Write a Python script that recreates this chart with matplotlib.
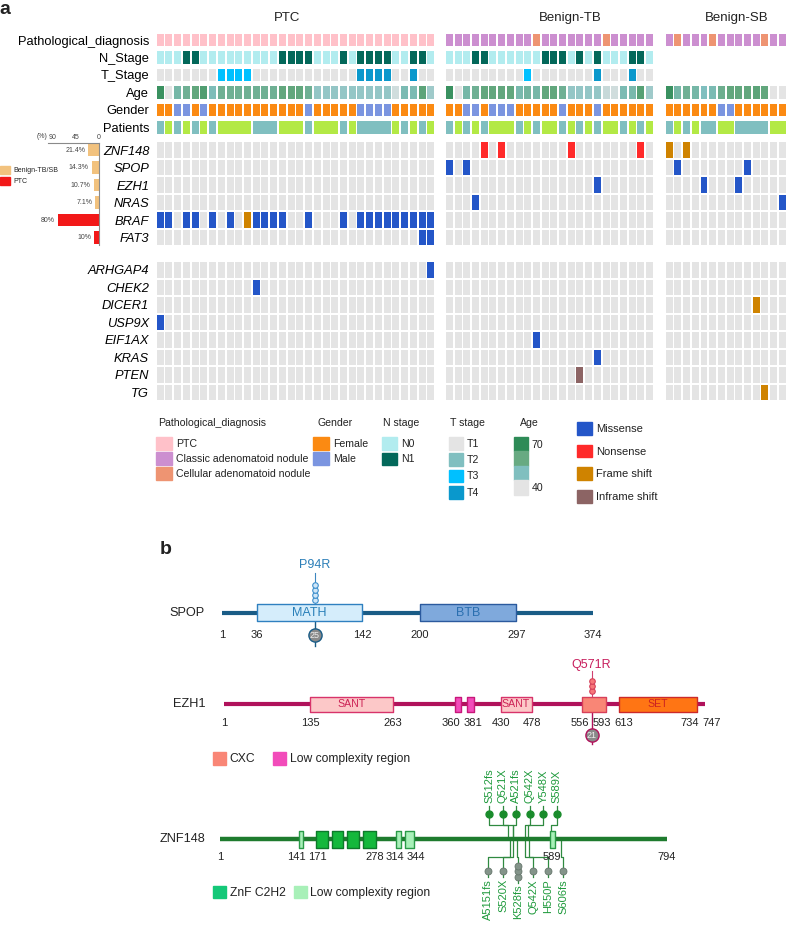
import numpy as np
import matplotlib
matplotlib.use("Agg")
import matplotlib.pyplot as plt
from matplotlib.patches import Patch
from matplotlib.colors import LinearSegmentedColormap

plt.rcParams['font.family'] = ['Liberation Sans', 'DejaVu Sans']
plt.rcParams['text.color'] = '#222222'

W, H = 788, 936

# ------------------------------------------------------------ panel a : data
group_names = ['PTC', 'Benign-TB', 'Benign-SB']

# pathology: 0 PTC, 1 classic adenomatoid nodule, 2 cellular adenomatoid nodule
path_ptc = [0] * 32
path_tb = [1,1,1,1,1,1,1,1,1,1,2,1,1,1,1,1,1,1,2,1,1,1,1,1]
path_sb = [1,2,1,1,1,2,1,1,1,1,1,2,1,1]

# N stage: 0 N0, 1 N1
nst_ptc = [0,0,0,1,1,0,0,0,0,0,0,0,0,0,1,1,1,1,0,0,0,1,0,1,1,1,1,0,0,1,1,0]
nst_tb = [0,0,0,1,1,0,0,0,0,0,0,1,1,1,0,1,0,1,0,0,0,1,1,0]
nst_sb = None

# T stage 1..4
tst_ptc = [1,1,1,1,1,1,1,3,3,3,3,1,1,1,1,1,1,1,1,1,1,1,1,4,4,4,4,1,1,4,1,1]
tst_tb = [1,1,1,1,1,1,1,1,1,3,1,1,1,1,1,1,1,4,1,1,1,4,1,1]
tst_sb = None

age_ptc = [68,40,54,57,61,64,51,57,57,57,57,57,57,57,61,61,61,57,48,48,48,48,48,
           48,48,48,48,42,52,52,62,47]
age_tb = [68,40,54,57,61,61,61,61,53,55,54,61,61,57,48,48,48,48,43,42,52,53,63,47]
age_sb = [68,54,57,54,50,52,58,61,61,61,62,61,40,40]

# gender: 0 female, 1 male
sex_ptc = [0,0,1,1,0,1,0,0,0,0,0,0,0,0,0,0,0,1,0,0,0,0,0,1,1,1,1,0,0,0,0,0]
sex_tb = [0,0,1,1,0,1,1,1,0,0,0,0,0,1,0,0,0,1,0,0,0,0,0,0]
sex_sb = [0,0,0,0,0,0,1,1,0,0,0,0,0,0]

# samples per patient (consecutive)
pat_ptc = [1,1,1,1,1,1,1,4,3,3,1,3,1,1,4,1,1,1,1,1]
pat_tb = [1,1,1,1,1,3,1,1,1,2,1,1,1,1,1,2,1,1,1,1]
pat_sb = [1,1,1,1,2,2,4,2]

main_genes = ['ZNF148', 'SPOP', 'EZH1', 'NRAS', 'BRAF', 'FAT3']
extra_genes = ['ARHGAP4', 'CHEK2', 'DICER1', 'USP9X', 'EIF1AX', 'KRAS', 'PTEN', 'TG']
ann_rows = ['Pathological_diagnosis', 'N_Stage', 'T_Stage', 'Age', 'Gender', 'Patients']

mut_ptc = [
    ('BRAF', 'Missense', [0,1,3,4,6,8,11,12,13,14,17,21,23,24,25,26,27,28,29,30,31]),
    ('BRAF', 'Frame shift', [10]),
    ('FAT3', 'Missense', [30, 31]),
    ('ARHGAP4', 'Missense', [31]),
    ('CHEK2', 'Missense', [11]),
    ('USP9X', 'Missense', [0]),
]
mut_tb = [
    ('ZNF148', 'Nonsense', [4, 6, 14, 22]),
    ('SPOP', 'Missense', [0, 2]),
    ('EZH1', 'Missense', [17]),
    ('NRAS', 'Missense', [3]),
    ('EIF1AX', 'Missense', [10]),
    ('KRAS', 'Missense', [17]),
    ('PTEN', 'Inframe shift', [15]),
]
mut_sb = [
    ('ZNF148', 'Frame shift', [0, 2]),
    ('SPOP', 'Missense', [1, 9]),
    ('EZH1', 'Missense', [4, 8]),
    ('NRAS', 'Missense', [13]),
    ('DICER1', 'Frame shift', [10]),
    ('TG', 'Frame shift', [11]),
]

freq_pct = [21.4, 14.3, 10.7, 7.1, 80, 10]
freq_lbl = ['21.4%', '14.3%', '10.7%', '7.1%', '80%', '10%']
freq_grp = ['Benign-TB/SB'] * 4 + ['PTC'] * 2

# ------------------------------------------------------------ panel b : data
spop_len = 374
spop_dom = ['MATH', 'BTB']
spop_start = [36, 200]
spop_end = [142, 297]
spop_ticks = [1, 36, 142, 200, 297, 374]
spop_mut, spop_mut_pos, spop_mut_n, spop_total = 'P94R', 94, 4, 25

ezh1_len = 747
ezh1_dom = ['SANT', 'LCR', 'LCR', 'SANT', 'CXC', 'SET']
ezh1_start = [135, 360, 378, 430, 556, 613]
ezh1_end = [263, 368, 389, 478, 593, 734]
ezh1_ticks = [1, 135, 263, 360, 381, 430, 478, 556, 593, 613, 734, 747]
ezh1_mut, ezh1_mut_pos, ezh1_mut_n, ezh1_total = 'Q571R', 571, 3, 21

znf_len = 794
znf_dom = ['LCR', 'ZnF', 'ZnF', 'ZnF', 'ZnF', 'LCR', 'LCR', 'LCR']
znf_start = [141, 172, 199, 226, 254, 314, 330, 587]
znf_end = [148, 193, 220, 248, 278, 322, 345, 596]
znf_ticks = [1, 141, 171, 278, 314, 344, 589, 794]
znf_up_name = ['S512fs', 'Q521X', 'A521fs', 'Q542X', 'Y548X', 'S589X']
znf_up_pos = [512, 521, 521, 542, 548, 589]
znf_dn_name = ['A5151fs', 'S520X', 'K528fs', 'Q542X', 'H550P', 'S606fs']
znf_dn_pos = [515, 520, 528, 542, 550, 606]
znf_dn_n = [1, 1, 3, 1, 1, 1]

# ------------------------------------------------------------ colours
path_col = ['#ffc1c9', '#cc8fd0', '#ee9472']
nst_col = ['#b2ecef', '#03685a']
tst_col = {1: '#e4e4e4', 2: '#80bfc0', 3: '#00c0ff', 4: '#0a98cc'}
sex_col = ['#fb8a12', '#7b95e0']
pat_col = ['#80bfc0', '#b3e945']
bg_col = '#e4e4e4'
mut_col = {'Missense': '#2456c8', 'Nonsense': '#ff2a2a',
           'Frame shift': '#cf8300', 'Inframe shift': '#8c6464'}
age_cmap = LinearSegmentedColormap.from_list(
    'age', ['#e4e4e4', '#80bfbf', '#68aa82', '#2e8b57'])
age_norm = plt.Normalize(40, 70)

fig = plt.figure(figsize=(W / 100, H / 100), dpi=100)


def px_axes(x0, y0, x1, y1):
    return fig.add_axes([x0 / W, 1 - y1 / H, (x1 - x0) / W, (y1 - y0) / H])


def fpos(x, y):
    return (x / W, 1 - y / H)


# ------------------------------------------------------------ oncoprint
ROW_PX, ROW0_PX = 17.5, 40.0
gene_row0, extra_row0 = 6.29, 13.14
y_lo, y_hi = -0.5, extra_row0 + len(extra_genes) - 0.5
gene_y = {g: gene_row0 + i for i, g in enumerate(main_genes)}
gene_y.update({g: extra_row0 + i for i, g in enumerate(extra_genes)})

group_data = [
    (path_ptc, nst_ptc, tst_ptc, age_ptc, sex_ptc, pat_ptc, mut_ptc),
    (path_tb, nst_tb, tst_tb, age_tb, sex_tb, pat_tb, mut_tb),
    (path_sb, nst_sb, tst_sb, age_sb, sex_sb, pat_sb, mut_sb),
]
group_px = [(156.7, 8.73), (446.0, 8.70), (665.7, 8.70)]
title_x = [14.9, 14.25, 8.2]

ah, gh, cw = 0.69, 0.88, 0.8
for gi, (path, nst, tst, age, sex, pat, muts) in enumerate(group_data):
    n = len(age)
    left, step = group_px[gi]
    ax = px_axes(left, ROW0_PX + y_lo * ROW_PX, left + n * step, ROW0_PX + y_hi * ROW_PX)
    ax.set_xlim(0, n)
    ax.set_ylim(y_hi, y_lo)
    x = np.arange(n)
    kw = dict(width=cw, align='edge', linewidth=0)
    ax.bar(x, ah, bottom=0 - ah / 2, color=[path_col[v] for v in path], **kw)
    if nst is not None:
        ax.bar(x, ah, bottom=1 - ah / 2, color=[nst_col[v] for v in nst], **kw)
    if tst is not None:
        ax.bar(x, ah, bottom=2 - ah / 2, color=[tst_col[v] for v in tst], **kw)
    ax.bar(x, ah, bottom=3 - ah / 2, color=age_cmap(age_norm(np.array(age))), **kw)
    ax.bar(x, ah, bottom=4 - ah / 2, color=[sex_col[v] for v in sex], **kw)
    starts = np.cumsum([0] + pat[:-1])
    ax.bar(starts, ah, bottom=5 - ah / 2, width=np.array(pat) - (1 - cw),
           align='edge', linewidth=0,
           color=[pat_col[k % 2] for k in range(len(pat))])
    for g, yy in gene_y.items():
        ax.bar(x, gh, bottom=yy - gh / 2, color=bg_col, **kw)
    for g, typ, cols in muts:
        ax.bar(cols, gh, bottom=gene_y[g] - gh / 2, color=mut_col[typ], **kw)
    for s in ax.spines.values():
        s.set_visible(False)
    ax.set_xticks([])
    ax.text(title_x[gi], -1.26, group_names[gi], ha='center', va='center', fontsize=9.5)
    if gi == 0:
        ticks = list(range(6)) + [gene_y[g] for g in main_genes + extra_genes]
        ax.set_yticks(ticks)
        ax.set_yticklabels(ann_rows + main_genes + extra_genes)
        ax.tick_params(axis='y', length=0, pad=5.4)
        for k, t in enumerate(ax.get_yticklabels()):
            t.set_fontsize(9.3)
            if k >= 6:
                t.set_fontstyle('italic')
    else:
        ax.set_yticks([])

# ------------------------------------------------------------ frequency bars
axb = px_axes(48, 143, 99, 245)
axb.set_ylim((245 - ROW0_PX) / ROW_PX, (143 - ROW0_PX) / ROW_PX)
axb.set_xlim(99.5, 0)
bar_c = {'Benign-TB/SB': '#f2c27e', 'PTC': '#f21818'}
by = [gene_y[g] for g in main_genes]
axb.barh(by, freq_pct, height=0.72, color=[bar_c[g] for g in freq_grp], linewidth=0)
for yy, v, l in zip(by, freq_pct, freq_lbl):
    axb.annotate(l, (v, yy), xytext=(-2, 0), textcoords='offset points',
                 ha='right', va='center', fontsize=5, color='#444444')
axb.xaxis.tick_top()
axb.set_xticks([90, 45, 0])
axb.tick_params(axis='x', length=0, pad=1.5, labelsize=5, colors='#444444')
axb.set_yticks([])
for s in ['left', 'bottom']:
    axb.spines[s].set_visible(False)
for s in ['top', 'right']:
    axb.spines[s].set_color('#8a8a8a')
    axb.spines[s].set_linewidth(0.8)
axb.text(111, (137 - ROW0_PX) / ROW_PX, '(%)', ha='center', va='center',
         fontsize=5, color='#444444')
axb.legend(handles=[Patch(color=bar_c['Benign-TB/SB']), Patch(color=bar_c['PTC'])],
           labels=['Benign-TB/SB', 'PTC'], loc='upper left',
           bbox_to_anchor=fpos(0, 166), bbox_transform=fig.transFigure,
           frameon=False, fontsize=5, handlelength=1.5, handleheight=1.3,
           labelspacing=0.45, handletextpad=0.4, borderpad=0, borderaxespad=0)

# ------------------------------------------------------------ panel a legends
lk = dict(loc='upper left', frameon=False, fontsize=7.6,
          borderpad=0, borderaxespad=0, handletextpad=0.35)
legend_specs = [
    ('Pathological_diagnosis', 158, 156, [Patch(color=c) for c in path_col],
     ['PTC', 'Classic adenomatoid nodule', 'Cellular adenomatoid nodule'], 1.52, 1.52, 0.19),
    ('Gender', 318, 313, [Patch(color=c) for c in sex_col], ['Female', 'Male'], 1.52, 1.52, 0.19),
    ('N stage', 383, 382, [Patch(color=c) for c in nst_col], ['N0', 'N1'], 1.45, 1.45, 0.3),
    ('T stage', 450, 449, [Patch(color=tst_col[k]) for k in [1, 2, 3, 4]],
     ['T1', 'T2', 'T3', 'T4'], 1.33, 1.45, 0.36),
    ('Age', 520, 514, [Patch(color=age_cmap(age_norm(v))) for v in [70, 60, 50, 40]],
     ['70', '', '', '40'], 1.33, 1.73, 0.0),
]
for title, tx, lx, hnd, lbl, hl, hh, ls in legend_specs:
    fig.text(tx / W, 1 - 423 / H, title, ha='left', va='center', fontsize=7.6)
    fig.legend(hnd, lbl, bbox_to_anchor=fpos(lx, 437), handlelength=hl,
               handleheight=hh, labelspacing=ls, **lk)
lk2 = dict(lk)
lk2['fontsize'] = 8
fig.legend([Patch(color=mut_col[k]) for k in mut_col], list(mut_col),
           bbox_to_anchor=fpos(577, 422), handlelength=1.38, handleheight=1.38,
           labelspacing=0.9, **lk2)

fig.text(5 / W, 1 - 9 / H, 'a', fontsize=14, fontweight='bold', ha='center', va='center')
fig.text(166 / W, 1 - 549 / H, 'b', fontsize=14, fontweight='bold', ha='center', va='center')


# ------------------------------------------------------------ panel b
def spread(pos, gap, n_iter=300):
    xs = np.array(pos, float)
    for _ in range(n_iter):
        for i in range(len(xs) - 1):
            d = xs[i + 1] - xs[i]
            if d < gap:
                sh = (gap - d) / 2
                xs[i] -= sh
                xs[i + 1] += sh
    return xs


def prot_axes(y_top, y_bot, y_line, a1_px, an_px, length, name):
    ax = px_axes(150, y_top, 788, y_bot)
    s = (an_px - a1_px) / (length - 1)
    ax.set_xlim(1 - (a1_px - 150) / s, length + (788 - an_px) / s)
    ax.set_ylim(-(y_bot - y_line), y_line - y_top)
    ax.axis('off')
    ax.text((205 - 150) / 638, 0, name, transform=ax.get_yaxis_transform(),
            ha='right', va='center', fontsize=9.2)
    return ax, s


def draw_ticks(ax, ticks, s, y, gap_px=21):
    xs = spread(ticks, gap_px / s)
    for t, xx in zip(ticks, xs):
        ax.text(xx, y, str(t), ha='center', va='center', fontsize=8)


# SPOP
ax, s = prot_axes(545, 652, 613, 222, 593, spop_len, 'SPOP')
ax.plot([1, spop_len], [0, 0], color='#1a5c86', lw=3, solid_capstyle='butt', zorder=2)
dom_style = {'MATH': ('#d5edfb', '#2f80c0', '#2a80b9'),
             'BTB': ('#7fa9dc', '#2b5a9e', '#2a6fb0')}
for nm, a, b in zip(spop_dom, spop_start, spop_end):
    fc, ec, tc = dom_style[nm]
    ax.broken_barh([(a, b - a)], (-8.5, 17), facecolors=fc, edgecolors=ec, lw=1, zorder=3)
    ax.text((a + b) / 2, 0, nm, ha='center', va='center', color=tc, fontsize=9, zorder=4)
draw_ticks(ax, spop_ticks, s, -22)
ax.plot([spop_mut_pos] * 2, [8.5, 40], color='#3c86bf', lw=0.8, zorder=1)
ax.plot([spop_mut_pos] * spop_mut_n, 13 + 5 * np.arange(spop_mut_n), 'o', ms=4,
        mfc='#cfe6f8', mec='#3d8fcc', mew=0.8, zorder=5)
ax.text(spop_mut_pos, 48, spop_mut, ha='center', va='center', color='#2c7fb8', fontsize=9)
ax.plot([spop_mut_pos] * 2, [0, -33], color='#1a5c86', lw=1, zorder=1)
ax.plot(spop_mut_pos, -22, 'o', ms=9.5, mfc='#8a8a8a', mec='#1a5c86', mew=1, zorder=5)
ax.text(spop_mut_pos, -22, str(spop_total), ha='center', va='center', color='#eeeeee',
        fontsize=6.5, zorder=6)

# EZH1
ax, s = prot_axes(652, 748, 704, 224, 705, ezh1_len, 'EZH1')
ax.plot([1, ezh1_len], [0, 0], color='#b0125b', lw=3, solid_capstyle='butt', zorder=2)
dom_style = {'SANT': ('#fcc8c8', '#d8336a', '#cc2255'),
             'LCR': ('#f24cba', '#c8187a', None),
             'CXC': ('#f98676', '#d8405a', None),
             'SET': ('#ff7514', '#cc2a2a', '#cc2222')}
for nm, a, b in zip(ezh1_dom, ezh1_start, ezh1_end):
    fc, ec, tc = dom_style[nm]
    ax.broken_barh([(a, b - a)], (-7.5, 15), facecolors=fc, edgecolors=ec, lw=1, zorder=3)
    if tc:
        ax.text((a + b) / 2, 0, nm, ha='center', va='center', color=tc, fontsize=7.6, zorder=4)
draw_ticks(ax, ezh1_ticks, s, -19, 22)
ax.plot([ezh1_mut_pos] * 2, [7.5, 33], color='#d04070', lw=0.8, zorder=1)
ax.plot([ezh1_mut_pos] * ezh1_mut_n, 13 + 5 * np.arange(ezh1_mut_n), 'o', ms=4,
        mfc='#f7777a', mec='#d6405a', mew=0.8, zorder=5)
ax.text(ezh1_mut_pos, 39, ezh1_mut, ha='center', va='center', color='#c8205e', fontsize=9)
ax.plot([ezh1_mut_pos] * 2, [0, -40], color='#b0125b', lw=1, zorder=1)
ax.plot(ezh1_mut_pos, -31, 'o', ms=9.5, mfc='#8a8a8a', mec='#b0125b', mew=1, zorder=5)
ax.text(ezh1_mut_pos, -31, str(ezh1_total), ha='center', va='center', color='#eeeeee',
        fontsize=6.5, zorder=6)
fig.legend([Patch(color='#f98676'), Patch(color='#f24cba')], ['CXC', 'Low complexity region'],
           ncol=2, bbox_to_anchor=fpos(213, 752), handlelength=1.07, handleheight=1.24,
           columnspacing=1.5, loc='upper left', frameon=False, fontsize=8.7,
           borderpad=0, borderaxespad=0, handletextpad=0.3)

# ZNF148
ax, s = prot_axes(760, 936, 839, 220, 667, znf_len, 'ZNF148')
ax.plot([1, znf_len], [0, 0], color='#1e7b2e', lw=3.2, solid_capstyle='butt', zorder=2)
dom_style = {'ZnF': ('#14b83c', '#0d7a2a'), 'LCR': ('#a8f0b8', '#2a9a48')}
for nm, a, b in zip(znf_dom, znf_start, znf_end):
    fc, ec = dom_style[nm]
    ax.broken_barh([(a, b - a)], (-8.5, 17), facecolors=fc, edgecolors=ec, lw=1, zorder=3)
draw_ticks(ax, znf_ticks, s, -18)
lab_c, con_c = '#1f9a3c', '#2f8a40'
up_x = spread(znf_up_pos, 13.5 / s)
for nm, p, d in zip(znf_up_name, znf_up_pos, up_x):
    ax.plot([d, d, p, p], [33, 14, 14, 2], color=con_c, lw=0.9, zorder=1)
    ax.plot(d, 25, 'o', ms=5, mfc='#1a8c2c', mec='#1a8c2c', zorder=5)
    ax.text(d, 36, nm, rotation=90, ha='center', va='bottom', color=lab_c, fontsize=8)
dn_x = spread(znf_dn_pos, 15 / s)
for nm, p, d, k in zip(znf_dn_name, znf_dn_pos, dn_x, znf_dn_n):
    cy = -32 + 5.5 * (np.arange(k) - (k - 1) / 2)
    low = cy.min()
    ax.plot([p, p, d, d], [-2, -18, -18, low - 6], color=con_c, lw=0.9, zorder=1)
    ax.plot([d] * k, cy, 'o', ms=5, mfc='#84948a', mec='#66766c', mew=0.6, zorder=5)
    ax.text(d, low - 8, nm, rotation=90, ha='center', va='top', color=lab_c, fontsize=8)
fig.legend([Patch(color='#14c878'), Patch(color='#a8f0b8')], ['ZnF C2H2', 'Low complexity region'],
           ncol=2, bbox_to_anchor=fpos(213, 886), handlelength=1.07, handleheight=1.2,
           columnspacing=0.7, loc='upper left', frameon=False, fontsize=8.7,
           borderpad=0, borderaxespad=0, handletextpad=0.3)

fig.savefig('out.png', dpi=100)
